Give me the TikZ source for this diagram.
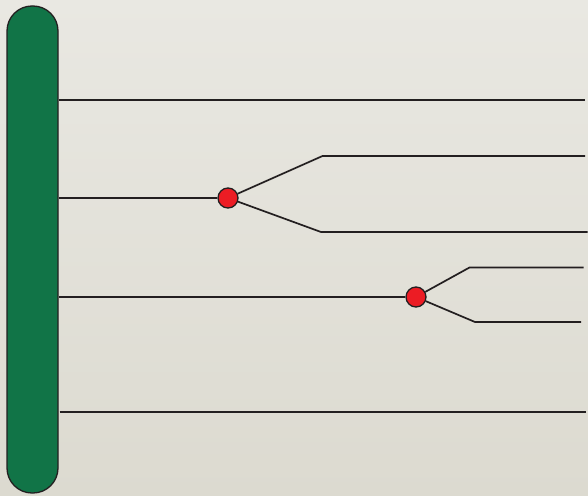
\documentclass[tikz,border=0pt]{standalone}
\definecolor{bgtop}{HTML}{E9E8E2}
\definecolor{bgbot}{HTML}{DCDAD0}
\definecolor{bargreen}{HTML}{117447}
\definecolor{dotred}{HTML}{EC1C24}
\definecolor{ink}{HTML}{231F20}
\begin{document}
\begin{tikzpicture}[x=1pt,y=-1pt,
  conn/.style={draw=ink,line width=1.7pt},
  dot/.style={circle,draw=ink,line width=1.3pt,fill=dotred,minimum size=20pt,inner sep=0pt},
  barbox/.style={draw=ink,line width=1.3pt,fill=bargreen,rounded corners=25pt,minimum width=51pt,minimum height=487pt,inner sep=0pt}]
\shade[top color=bgtop,bottom color=bgbot] (0,0) rectangle (588,495);
\useasboundingbox (0,0) rectangle (588,495);
\node[barbox] (bar) at (32.5,249.5) {};
\node[dot] (d1) at (228,198) {};
\node[dot] (d2) at (416,297) {};
\coordinate (e1) at (585,100);
\coordinate (k1) at (322.5,156);
\coordinate (e2) at (585,156);
\coordinate (k2) at (321,232);
\coordinate (e3) at (587.5,232);
\coordinate (k3) at (469.5,267.5);
\coordinate (e4) at (583.5,267.5);
\coordinate (k4) at (475,322);
\coordinate (e5) at (581,322);
\coordinate (e6) at (585.5,412);
\draw[conn] (bar.east |- e1) -- (e1);
\draw[conn] (bar.east |- d1) -- (d1);
\draw[conn] (d1) -- (k1) -- (e2);
\draw[conn] (d1) -- (k2) -- (e3);
\draw[conn] (bar.east |- d2) -- (d2);
\draw[conn] (d2) -- (k3) -- (e4);
\draw[conn] (d2) -- (k4) -- (e5);
\draw[conn] ([xshift=1pt]bar.east |- e6) -- (e6);
\end{tikzpicture}
\end{document}
